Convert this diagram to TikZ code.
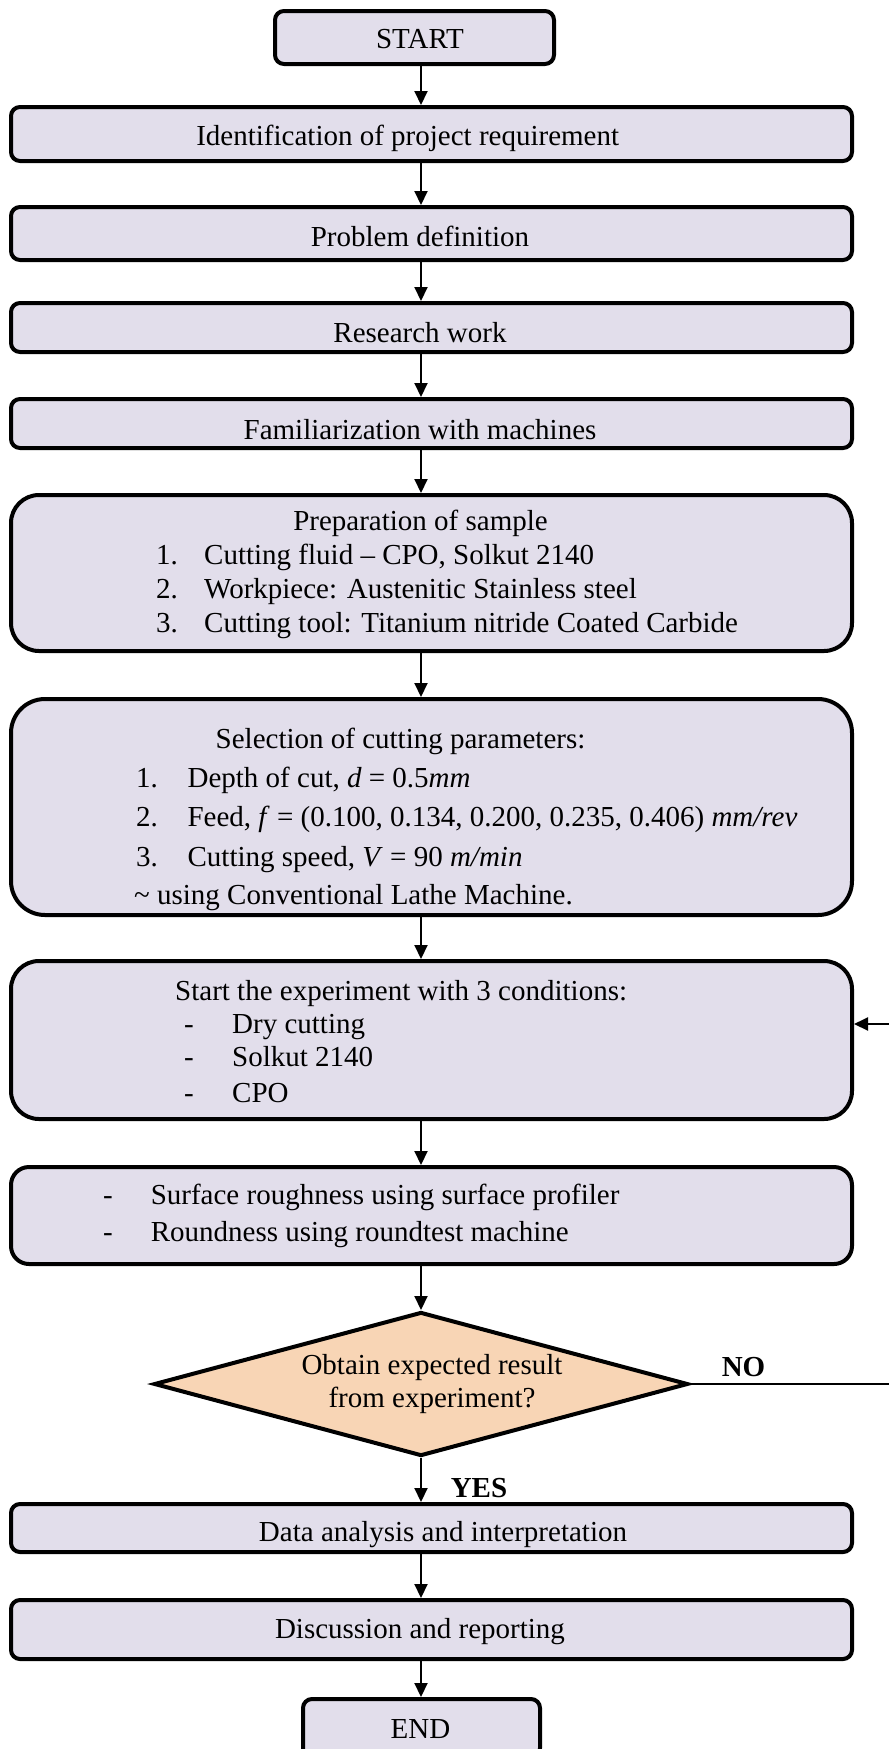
\documentclass[tikz,border=0pt]{standalone}
\usepackage{fontspec}
\setmainfont{Liberation Serif}
\usetikzlibrary{arrows.meta,shapes.geometric}
\definecolor{boxfill}{RGB}{226,222,235}
\definecolor{diafill}{RGB}{248,213,181}
\begin{document}
\begin{tikzpicture}[x=1pt,y=-1pt,
  box/.style={draw=black, line width=4pt, fill=boxfill, rounded corners=9pt, inner sep=0pt, minimum width=841pt},
  bigbox/.style={box, rounded corners=28pt},
  tx/.style={inner sep=0pt, font=\fontsize{29}{34}\selectfont, anchor=base west},
  tc/.style={tx, anchor=base},
  tb/.style={tc, font=\fontsize{29}{34}\selectfont\bfseries},
  arr/.style={line width=2pt, -{Triangle[width=13pt,length=14pt]}}]
\useasboundingbox (0,0) rectangle (889,1749);

% boxes
\node[box, minimum width=279pt, minimum height=53pt] (start) at (414.5,37.5) {};
\node[box, minimum height=54pt] (ident) at (431.5,134) {};
\node[box, minimum height=53pt] (prob) at (431.5,233.5) {};
\node[box, minimum height=49pt] (res) at (431.5,327.5) {};
\node[box, minimum height=49pt] (fam) at (431.5,423.5) {};
\node[bigbox, minimum height=156pt] (prep) at (431.5,573) {};
\node[bigbox, rounded corners=34pt, minimum height=216pt] (sel) at (431.5,807) {};
\node[bigbox, minimum height=158pt] (exp) at (431.5,1040) {};
\node[bigbox, rounded corners=18pt, minimum height=97pt] (meas) at (431.5,1215.5) {};
\node[diamond, draw=black, line width=4pt, fill=diafill, inner sep=0pt, minimum width=534pt, minimum height=144pt] (diam) at (421,1384) {};
\node[box, minimum height=48pt] (data) at (431.5,1528) {};
\node[box, minimum height=59pt] (disc) at (431.5,1629.5) {};
\node[box, minimum width=237pt, minimum height=58pt] (end) at (421.5,1728) {};

% texts
\node[tc] (tstart) at (420,48) {START};
\node[tc] (tident) at (407.7,145) {Identification of project requirement};
\node[tc] (tprob) at (420,246) {Problem definition};
\node[tc] (tres) at (420,342) {Research work};
\node[tc] (tfam) at (420,439) {Familiarization with machines};

\node[tc] (tprep) at (420.5,530) {Preparation of sample};
\node[tx] (tp1n) at (156,564) {1.};
\node[tx] (tp1) at (204,564) {Cutting fluid – CPO, Solkut 2140};
\node[tx] (tp2n) at (156,598) {2.};
\node[tx] (tp2) at (204,598) {Workpiece: Austenitic Stainless steel};
\node[tx] (tp3n) at (156,632) {3.};
\node[tx] (tp3) at (204,632) {Cutting tool: Titanium nitride Coated Carbide};

\node[tc] (tsel) at (400.5,748) {Selection of cutting parameters:};
\node[tx] (ts1n) at (136,787) {1.};
\node[tx] (ts1) at (187.4,787) {Depth of cut, \textit{d} = 0.5\textit{mm}};
\node[tx] (ts2n) at (136,826.5) {2.};
\node[tx] (ts2) at (187.4,826.5) {Feed, \textit{f} = (0.100, 0.134, 0.200, 0.235, 0.406) \textit{mm/rev}};
\node[tx] (ts3n) at (136,866.5) {3.};
\node[tx] (ts3) at (187.4,866.5) {Cutting speed, \textit{V} = 90 \textit{m/min}};
\node[tx] (ts4) at (134,904.5) {\textasciitilde{} using Conventional Lathe Machine.};

\node[tx] (texp) at (175,1000.5) {Start the experiment with 3 conditions:};
\node[tx] (te1n) at (184,1033) {-};
\node[tx] (te1) at (232,1033) {Dry cutting};
\node[tx] (te2n) at (184,1066) {-};
\node[tx] (te2) at (232,1066) {Solkut 2140};
\node[tx] (te3n) at (184,1102) {-};
\node[tx] (te3) at (232,1102) {CPO};

\node[tx] (tm1n) at (103,1204.6) {-};
\node[tx] (tm1) at (150.6,1204.6) {Surface roughness using surface profiler};
\node[tx] (tm2n) at (103,1241) {-};
\node[tx] (tm2) at (150.6,1241) {Roundness using roundtest machine};

\node[tc] (td1) at (432,1374) {Obtain expected result};
\node[tc] (td2) at (432,1407.6) {from experiment?};
\node[tb] (tno) at (743.5,1376) {NO};
\node[tb] (tyes) at (479,1497) {YES};

\node[tc] (tdata) at (443,1541.5) {Data analysis and interpretation};
\node[tc] (tdisc) at (420,1638.5) {Discussion and reporting};
\node[tc] (tend) at (420.5,1738) {END};

% connectors
\draw[arr] (start.south -| diam.north) -- (ident.north -| diam.north);
\draw[arr] (ident.south -| diam.north) -- (prob.north -| diam.north);
\draw[arr] (prob.south -| diam.north) -- (res.north -| diam.north);
\draw[arr] (res.south -| diam.north) -- (fam.north -| diam.north);
\draw[arr] (fam.south -| diam.north) -- (prep.north -| diam.north);
\draw[arr] (prep.south -| diam.north) -- (sel.north -| diam.north);
\draw[arr] (sel.south -| diam.north) -- (exp.north -| diam.north);
\draw[arr] (exp.south -| diam.north) -- (meas.north -| diam.north);
\draw[arr] (meas.south -| diam.north) -- (diam.north);
\draw[arr] (diam.south) -- (data.north -| diam.north);
\draw[arr] (data.south -| diam.north) -- (disc.north -| diam.north);
\draw[arr] (disc.south -| diam.north) -- (end.north -| diam.north);

\coordinate (fbR) at (896,1384);
\coordinate (fbT) at (896,1024);
\draw[arr] (diam.east) -- (fbR) -- (fbT) -- (exp.east |- fbT);
\end{tikzpicture}
\end{document}
